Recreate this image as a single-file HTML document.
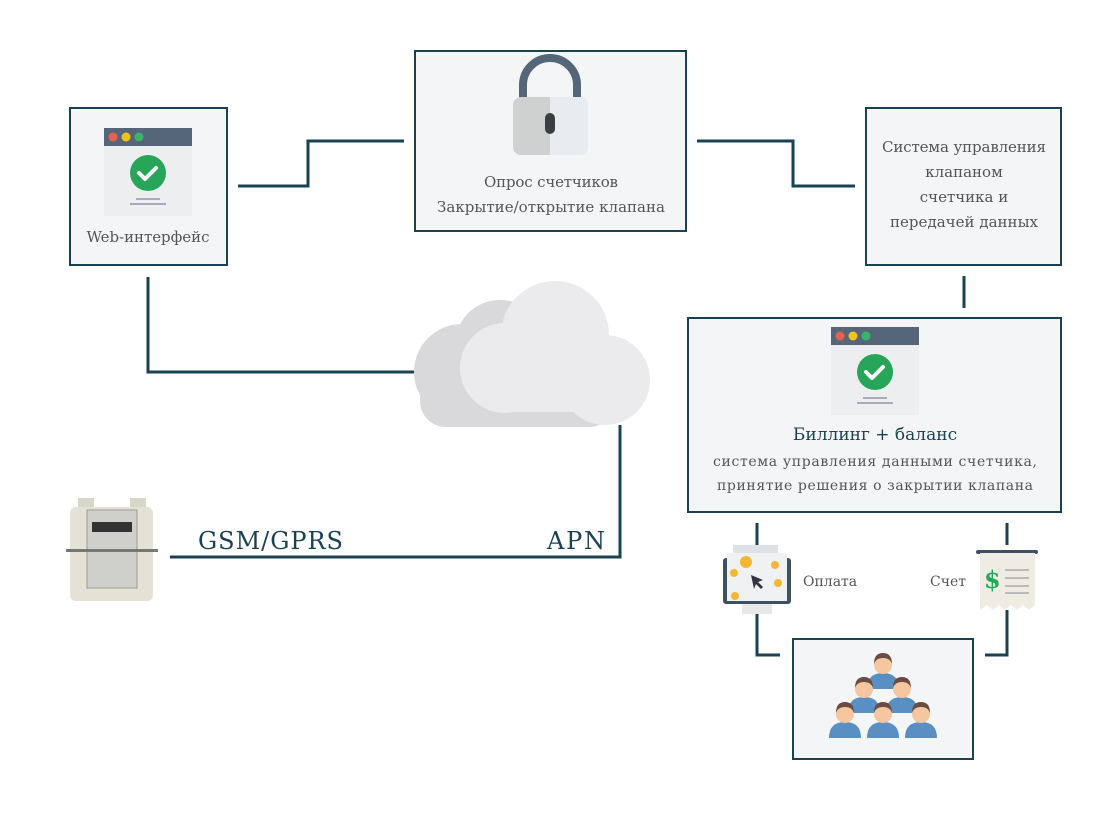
<!DOCTYPE html>
<html><head><meta charset="utf-8"><style>
html,body{margin:0;padding:0;background:#fff;}
svg{display:block;}
text{font-family:"DejaVu Serif","Liberation Serif",serif;fill:#555;}
</style></head><body>
<svg width="1100" height="832" viewBox="0 0 1100 832" xmlns="http://www.w3.org/2000/svg">
<defs>
<g id="win">
<rect x="0" y="0" width="88" height="88" fill="#eceeef"/>
<rect x="0" y="0" width="88" height="18" fill="#546678"/>
<circle cx="9" cy="9" r="4.5" fill="#e8604f"/>
<circle cx="22" cy="9" r="4.5" fill="#f2c21b"/>
<circle cx="35" cy="9" r="4.5" fill="#3bb36a"/>
<circle cx="44" cy="45" r="18" fill="#27a659"/>
<path d="M35 45 l6 6 l11 -11" stroke="#fff" stroke-width="4" fill="none" stroke-linecap="round" stroke-linejoin="round"/>
<rect x="32" y="70" width="24" height="2" fill="#aab"/>
<rect x="26" y="75" width="36" height="2" fill="#aab"/>
</g>
<g id="person">
<path d="M-16 24 q0 -16 16 -16 q16 0 16 16 z" fill="#5a8fc4"/>
<circle cx="0" cy="0" r="9" fill="#f5c6a0"/>
<path d="M-9 -1 q0 -11 9 -11 q9 0 9 11 q-2 -6 -9 -6 q-7 0 -9 6z" fill="#6b4c43"/>
</g>
</defs>
<g fill="#f4f5f6" stroke="#1b4253" stroke-width="2">
<rect x="70" y="108" width="157" height="157"/>
<rect x="415" y="51" width="271" height="180"/>
<rect x="866" y="108" width="195" height="157"/>
<rect x="688" y="318" width="373" height="194"/>
<rect x="793" y="639" width="180" height="120"/>
</g>
<g fill="none" stroke="#1b4253" stroke-width="3">
<path d="M238 186 H308 V141 H404"/>
<path d="M697 141 H793 V186 H855"/>
<path d="M964 276 V308"/>
<path d="M148 277 V372 H414"/>
<path d="M620 425 V557 H170"/>
<path d="M757 523 V545"/>
<path d="M1007 523 V545"/>
<path d="M757 614 V655 H780"/>
<path d="M1007 610 V655 H985"/>
</g>
<g>
<circle cx="462" cy="372" r="48" fill="#d9d8da"/>
<circle cx="500" cy="345" r="45" fill="#d9d8da"/>
<rect x="420" y="375" width="195" height="52" rx="26" fill="#d9d8da"/>
<circle cx="555" cy="335" r="54" fill="#ebeaec"/>
<circle cx="505" cy="368" r="45" fill="#ebeaec"/>
<circle cx="605" cy="380" r="45" fill="#ebeaec"/>
<rect x="505" y="380" width="100" height="32" fill="#ebeaec"/>
</g>
<use href="#win" x="104" y="128"/>
<text x="148" y="242" font-size="15" text-anchor="middle" textLength="123">Web-интерфейс</text>
<path d="M523 98 V85 a27 27 0 0 1 54 0 V98" fill="none" stroke="#546678" stroke-width="8"/>
<rect x="513" y="97" width="75" height="58" rx="8" fill="#cfd0d0"/>
<path d="M550 97 h30 a8 8 0 0 1 8 8 v42 a8 8 0 0 1 -8 8 h-30z" fill="#e9ecee"/>
<rect x="545" y="113" width="10" height="21" rx="5" fill="#3b3f42"/>
<text x="551" y="187" font-size="15" text-anchor="middle" textLength="134">Опрос счетчиков</text>
<text x="551" y="212" font-size="15" text-anchor="middle" textLength="228">Закрытие/открытие клапана</text>
<text x="964" y="152" font-size="15" text-anchor="middle" textLength="164">Система управления</text>
<text x="964" y="177" font-size="15" text-anchor="middle">клапаном</text>
<text x="964" y="202" font-size="15" text-anchor="middle">счетчика и</text>
<text x="964" y="227" font-size="15" text-anchor="middle" textLength="148">передачей данных</text>
<use href="#win" x="831" y="327"/>
<text x="875" y="440" font-size="17" text-anchor="middle" style="fill:#1b4253">Биллинг + баланс</text>
<text x="875" y="466" font-size="14" text-anchor="middle" textLength="324">система управления данными счетчика,</text>
<text x="875" y="490" font-size="14" text-anchor="middle" textLength="316">принятие решения о закрытии клапана</text>
<text x="198" y="549" font-size="24" style="fill:#1b4253" textLength="145">GSM/GPRS</text>
<text x="547" y="549" font-size="24" style="fill:#1b4253" textLength="58">APN</text>
<rect x="78" y="498" width="16" height="14" fill="#d8d6c8"/>
<rect x="130" y="498" width="16" height="14" fill="#d8d6c8"/>
<rect x="70" y="507" width="83" height="94" rx="6" fill="#e4e2d4"/>
<rect x="87" y="510" width="50" height="78" fill="#cfd0cc" stroke="#999" stroke-width="1"/>
<rect x="92" y="522" width="40" height="10" fill="#333"/>
<rect x="66" y="549" width="92" height="3" fill="#777"/>
<rect x="733" y="545" width="45" height="8" fill="#dfe2e4"/>
<rect x="723" y="558" width="68" height="46" rx="3" fill="#3f5160"/>
<rect x="727" y="553" width="60" height="48" fill="#f0f1f2"/>
<rect x="742" y="604" width="30" height="10" fill="#e6e8ea"/>
<g fill="#f5b731"><circle cx="746" cy="562" r="6"/><circle cx="734" cy="573" r="4"/><circle cx="775" cy="565" r="4"/><circle cx="778" cy="583" r="4"/><circle cx="735" cy="596" r="4"/></g>
<path d="M751 575 l12 5 l-5 2 l5 5 l-2 2 l-5 -5 l-2 5z" fill="#334"/>
<text x="803" y="586" font-size="14">Оплата</text>
<text x="930" y="586" font-size="14">Счет</text>
<rect x="976" y="550" width="62" height="4" rx="2" fill="#3f5160"/>
<path d="M980 553 h55 v52 l-6 5 l-6 -5 l-6 5 l-6 -5 l-6 5 l-6 -5 l-6 5 l-6 -5 l-7 5z" fill="#efede3"/>
<text x="984" y="588" font-size="24" style="fill:#27a659" font-weight="bold">$</text>
<g fill="#bbb"><rect x="1005" y="569" width="24" height="2"/><rect x="1005" y="577" width="24" height="2"/><rect x="1005" y="585" width="24" height="2"/><rect x="1005" y="592" width="24" height="2"/></g>
<use href="#person" x="883" y="665"/>
<use href="#person" x="864" y="689"/>
<use href="#person" x="902" y="689"/>
<use href="#person" x="845" y="714"/>
<use href="#person" x="883" y="714"/>
<use href="#person" x="921" y="714"/>
</svg>
</body></html>
